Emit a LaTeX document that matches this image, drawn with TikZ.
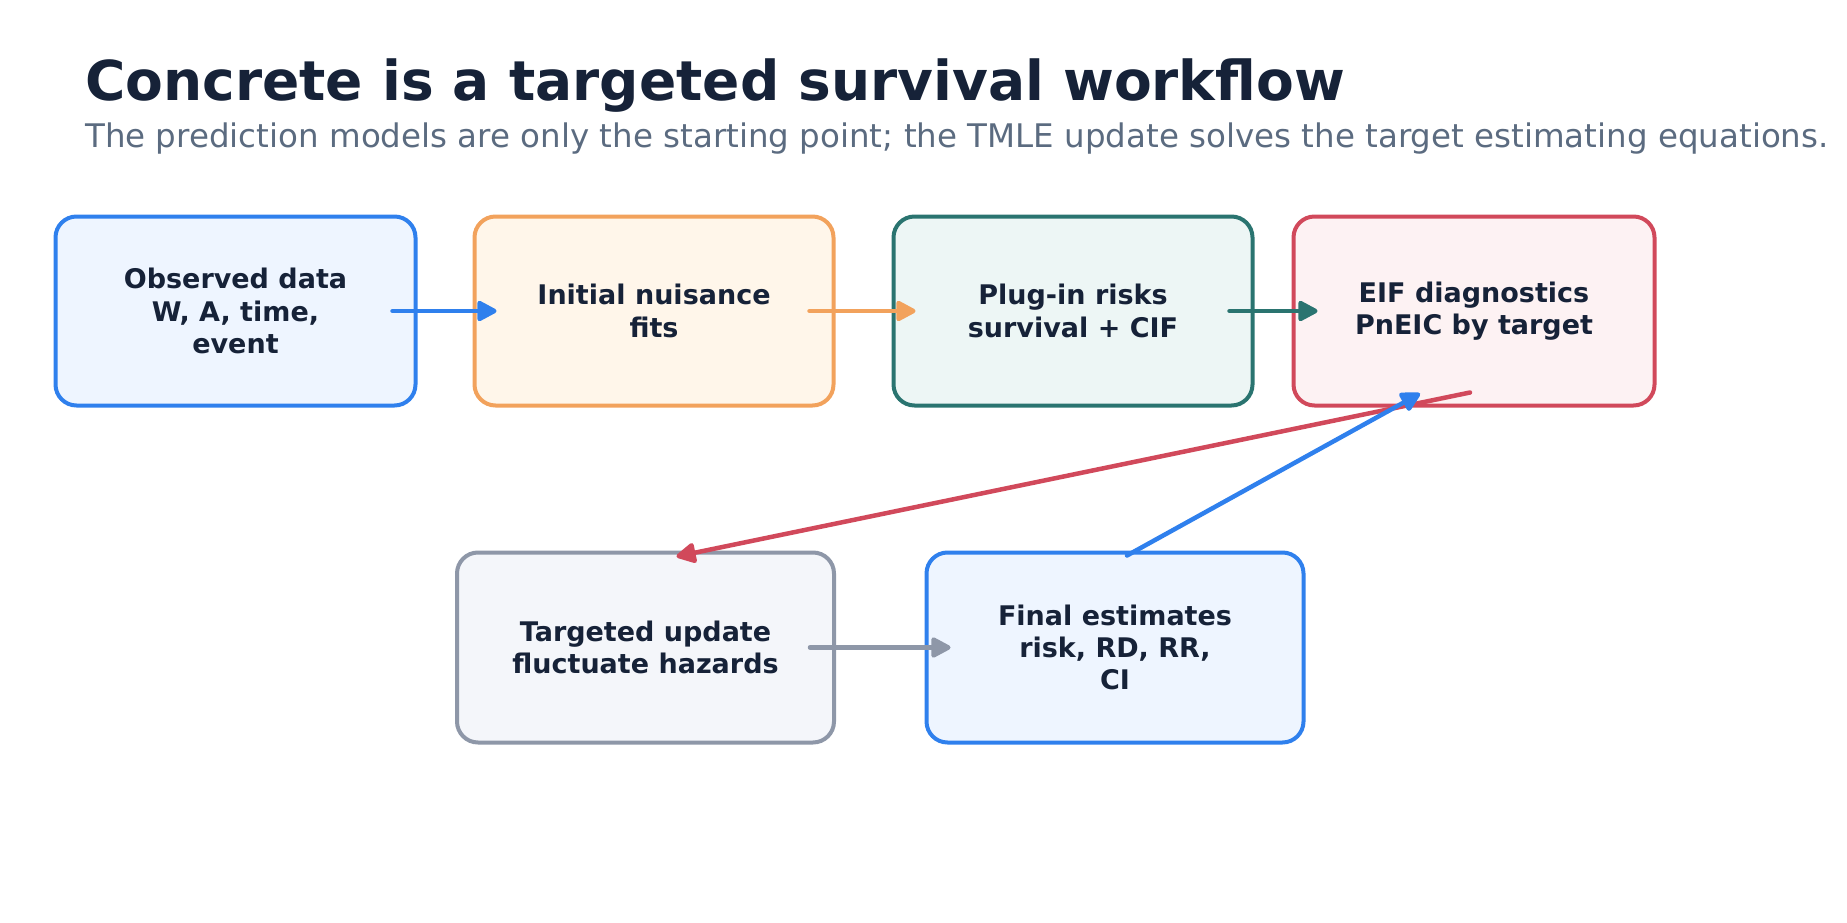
\documentclass[tikz,border=0pt]{standalone}
\usepackage{fontspec}
\setmainfont{DejaVu Sans}
\usetikzlibrary{arrows.meta,calc}
\definecolor{ink}{HTML}{162238}
\definecolor{subgray}{HTML}{5B6B80}
\definecolor{cblue}{HTML}{2F80ED}
\definecolor{fblue}{HTML}{EEF5FF}
\definecolor{corange}{HTML}{F2A25C}
\definecolor{forange}{HTML}{FFF6EA}
\definecolor{cteal}{HTML}{2A7470}
\definecolor{fteal}{HTML}{EDF6F5}
\definecolor{cred}{HTML}{D1495B}
\definecolor{fred}{HTML}{FDF2F3}
\definecolor{cgray}{HTML}{8E97A8}
\definecolor{fgray}{HTML}{F4F6FA}
\tikzset{
  stagebox/.style={draw=#1, line width=4pt, rounded corners=21pt, inner sep=0pt,
    align=center, text=ink, font=\fontsize{27}{32.4}\selectfont\bfseries},
  flow/.style={draw=#1, line width=4.5pt, line cap=round,
    -{Triangle[length=22pt,width=22pt,round]}},
}
\begin{document}
\begin{tikzpicture}[x=1pt,y=-1pt]
\useasboundingbox (0,0) rectangle (1847,923);
\node[anchor=base west, text=ink, font=\fontsize{55}{60}\selectfont\bfseries, inner sep=0pt] (title) at (85,101) {Concrete is a targeted survival workflow};
\node[anchor=base west, text=subgray, font=\fontsize{32.5}{36}\selectfont, inner sep=0pt] (subtitle) at (85,148) {The prediction models are only the starting point; the TMLE update solves the target estimating equations.};

\node[stagebox=cblue, fill=fblue, minimum width=360pt, minimum height=189pt] (obs) at (235.5,311) {Observed data\\W, A, time,\\event};
\node[stagebox=corange, fill=forange, minimum width=359pt, minimum height=189pt] (init) at (654,311) {Initial nuisance\\fits};
\node[stagebox=cteal, fill=fteal, minimum width=359pt, minimum height=189pt] (plug) at (1073,311) {Plug-in risks\\survival + CIF};
\node[stagebox=cred, fill=fred, minimum width=361pt, minimum height=189pt] (eif) at (1474,311) {EIF diagnostics\\PnEIC by target};
\node[stagebox=cgray, fill=fgray, minimum width=377pt, minimum height=190pt] (upd) at (645.5,647.5) {Targeted update\\fluctuate hazards};
\node[stagebox=cblue, fill=fblue, minimum width=377pt, minimum height=190pt] (final) at (1115,647.5) {Final estimates\\risk, RD, RR,\\CI};

\draw[flow=cblue] ($(obs.east)+(-25,0)$) -- ($(init.west)+(24,0)$);
\draw[flow=corange] ($(init.east)+(-26,0)$) -- ($(plug.west)+(24,0)$);
\draw[flow=cteal] ($(plug.east)+(-25,0)$) -- ($(eif.west)+(26,0)$);
\draw[flow=cgray] ($(upd.east)+(-26,0)$) -- ($(final.west)+(26,0)$);
\draw[flow=cred] ($(eif.south)+(-4,-15)$) -- ($(upd.north)+(31,6)$);
\draw[flow=cblue] ($(final.north)+(12,5)$) -- ($(eif.south)+(-54,-14)$);
\end{tikzpicture}
\end{document}
